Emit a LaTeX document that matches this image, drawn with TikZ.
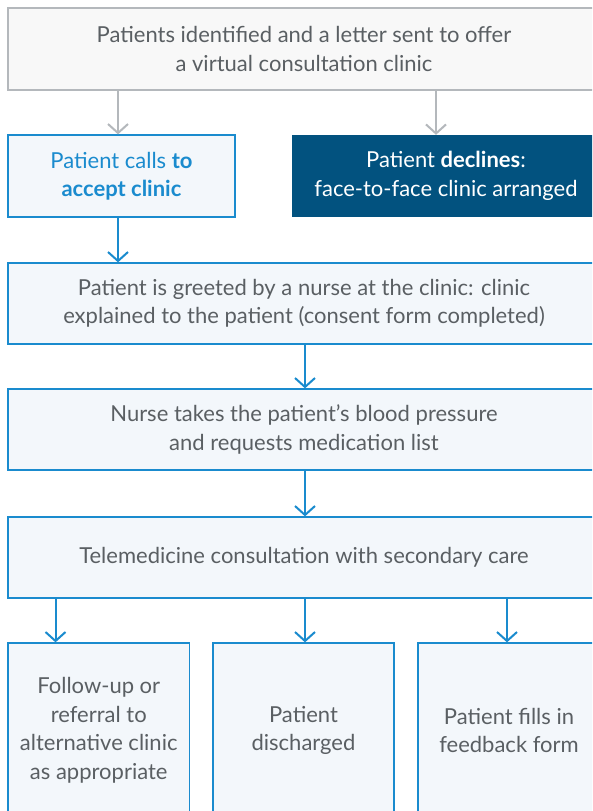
\documentclass[tikz,border=0pt]{standalone}
\usepackage{fontspec}
\setmainfont{Lato}
\usetikzlibrary{arrows.meta}
\definecolor{txtgray}{HTML}{5A5F63}
\definecolor{linegray}{HTML}{B4B8BC}
\definecolor{topfill}{HTML}{F8F8F8}
\definecolor{nhsblue}{HTML}{1A8BCE}
\definecolor{lightfill}{HTML}{F3F7FB}
\definecolor{darkblue}{HTML}{02527F}
\begin{document}
\begin{tikzpicture}[x=1pt,y=-1pt,
  every node/.style={font=\fontsize{22}{28.5}\selectfont, text=txtgray, align=center, inner sep=0pt},
  graybox/.style={draw=linegray, line width=1.5pt, fill=topfill},
  bluebox/.style={draw=nhsblue, line width=1.3pt, fill=lightfill},
  darkbox/.style={fill=darkblue, text=white},
  garrow/.style={draw=linegray, line width=2pt, -{Straight Barb[length=9pt,width=20pt,line width=2pt]}},
  barrow/.style={draw=nhsblue, line width=2pt, -{Straight Barb[length=9pt,width=20pt,line width=2pt]}}]
\useasboundingbox (0,0) rectangle (592,811);
\clip (0,0) rectangle (592,811);
\fill[white] (0,0) rectangle (592,811);
\node[graybox, minimum width=592pt, minimum height=82pt] (top) at (304,49) {Patients identified and a letter sent to offer\\a virtual consultation clinic};
\node[bluebox, minimum width=227pt, minimum height=82pt, text=nhsblue] (calls) at (121.5,176) {Patient calls \textbf{to}\\\textbf{accept clinic}};
\node[darkbox, minimum width=308pt, minimum height=82pt] (decl) at (446,176) {Patient \textbf{declines}:\\face-to-face clinic arranged};
\node[bluebox, minimum width=592pt, minimum height=81pt] (greet) at (304,303.5) {Patient is greeted by a nurse at the clinic: clinic\\explained to the patient (consent form completed)};
\node[bluebox, minimum width=592pt, minimum height=81pt] (nurse) at (304,429.5) {Nurse takes the patient’s blood pressure\\and requests medication list};
\node[bluebox, minimum width=592pt, minimum height=81pt] (tele) at (304,557.5) {Telemedicine consultation with secondary care};
\node[bluebox, minimum width=181.5pt, minimum height=175pt] (b1) at (98.75,730.5) {Follow-up or\\referral to\\alternative clinic\\as appropriate};
\node[bluebox, minimum width=181pt, minimum height=175pt] (b2) at (303.5,730.5) {Patient\\discharged};
\node[bluebox, minimum width=182pt, minimum height=175pt] (b3) at (509,730.5) {Patient fills in\\feedback form};
\coordinate (xa) at (118,0);
\coordinate (xb) at (436,0);
\coordinate (xc) at (305,0);
\coordinate (xd) at (55.5,0);
\coordinate (xe) at (507,0);
\draw[garrow] (top.south -| xa) -- (calls.north -| xa);
\draw[garrow] (top.south -| xb) -- (decl.north -| xb);
\draw[barrow] (calls.south -| xa) -- (greet.north -| xa);
\draw[barrow] (greet.south -| xc) -- (nurse.north -| xc);
\draw[barrow] (nurse.south -| xc) -- (tele.north -| xc);
\draw[barrow] (tele.south -| xd) -- (b1.north -| xd);
\draw[barrow] (tele.south -| xc) -- (b2.north -| xc);
\draw[barrow] (tele.south -| xe) -- (b3.north -| xe);
\end{tikzpicture}
\end{document}
